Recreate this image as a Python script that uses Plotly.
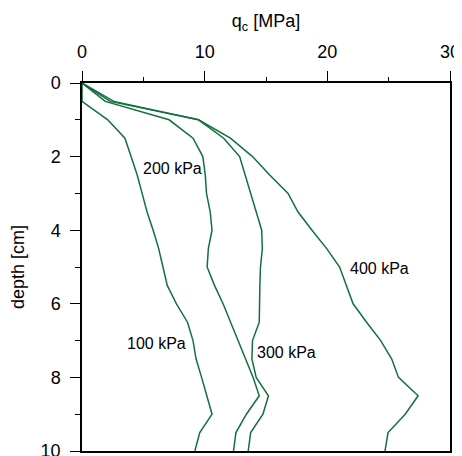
import plotly.graph_objects as go

depth = [0, 0.5, 1.0, 1.5, 2.0, 2.5, 3.0, 3.5, 4.0, 4.5, 5.0, 5.5, 6.0, 6.5, 7.0, 7.5, 8.0, 8.5, 9.0, 9.5, 10.0]

qc_100 = [0, 0, 2.1, 3.5, 4.0, 4.5, 4.9, 5.3, 5.8, 6.25, 6.6, 6.95, 7.7, 8.6, 9.05, 9.3, 9.75, 10.15, 10.6, 9.6, 9.2]
qc_200 = [0, 1.9, 7.1, 9.05, 9.85, 10.05, 10.15, 10.45, 10.6, 10.3, 10.2, 10.8, 11.5, 12.1, 12.7, 13.35, 13.95, 14.45, 13.4, 12.55, 12.35]
qc_300 = [0, 2.3, 9.5, 11.55, 12.85, 13.3, 13.7, 14.2, 14.65, 14.7, 14.55, 14.5, 14.5, 14.45, 13.9, 13.85, 14.2, 15.2, 14.75, 13.75, 13.55]
qc_400 = [0, 2.6, 9.5, 12.1, 13.9, 15.3, 16.8, 17.6, 18.75, 19.95, 21.0, 21.55, 22.1, 23.2, 24.35, 25.25, 25.8, 27.4, 26.35, 24.95, 24.7]

series = [("100 kPa", qc_100), ("200 kPa", qc_200), ("300 kPa", qc_300), ("400 kPa", qc_400)]
label_pos = {"100 kPa": (6.1, 7.08), "200 kPa": (7.4, 2.32), "300 kPa": (16.7, 7.33), "400 kPa": (24.25, 5.04)}

line_color = "#12703f"
font_family = "Liberation Sans, Arial, sans-serif"

fig = go.Figure()
for name, vals in series:
    fig.add_trace(go.Scatter(x=vals, y=depth, mode="lines", name=name,
                             line=dict(color=line_color, width=1.5), showlegend=False))
    lx, ly = label_pos[name]
    fig.add_annotation(x=lx, y=ly, text=name, showarrow=False,
                       font=dict(size=16, color="black", family=font_family),
                       bgcolor="rgba(0,0,0,0)")

# the page body adds an 8 px offset, so margins compensate for it
fig.update_layout(
    width=462, height=456,
    margin=dict(l=74, r=20, t=75, b=13),
    paper_bgcolor="white", plot_bgcolor="white",
    font=dict(family=font_family, size=18, color="black"),
    xaxis=dict(side="top", range=[0, 30], tickvals=[0, 10, 20, 30], automargin=False,
               ticks="outside", ticklen=10, tickwidth=1.2, tickcolor="black",
               ticklabelstandoff=6,
               minor=dict(tickvals=[5, 15, 25], ticks="outside", ticklen=4, tickwidth=1.2, tickcolor="black"),
               showline=True, linecolor="black", linewidth=1.5, mirror=True,
               showgrid=False, zeroline=False,
               title=dict(text="q<sub>c</sub> [MPa]", font=dict(size=18), standoff=10),
               tickfont=dict(size=18)),
    yaxis=dict(range=[10, 0], tickvals=[0, 2, 4, 6, 8, 10], automargin=False,
               ticks="outside", ticklen=10, tickwidth=1.2, tickcolor="black",
               ticklabelstandoff=6,
               minor=dict(tickvals=[1, 3, 5, 7, 9], ticks="outside", ticklen=5, tickwidth=1.2, tickcolor="black"),
               showline=True, linecolor="black", linewidth=1.5, mirror=True,
               showgrid=False, zeroline=False,
               title=dict(text="depth [cm]", font=dict(size=18), standoff=18),
               tickfont=dict(size=18)),
)

fig.write_html("out.html")
